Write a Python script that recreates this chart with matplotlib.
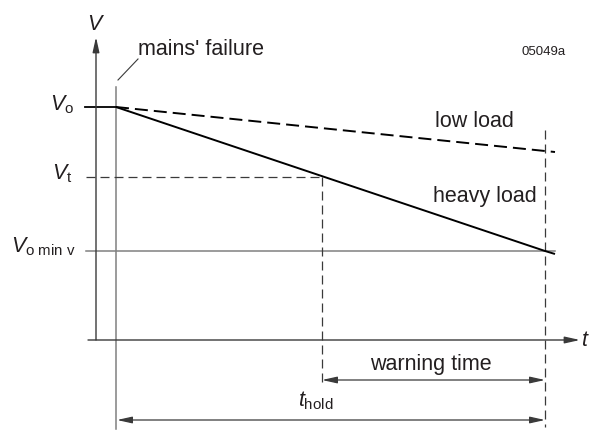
import matplotlib
matplotlib.use("Agg")
import matplotlib.pyplot as plt

plt.rcParams["font.family"] = ["Liberation Sans", "DejaVu Sans"]
plt.rcParams["mathtext.fontset"] = "custom"
plt.rcParams["mathtext.it"] = "Liberation Sans:italic"
plt.rcParams["mathtext.rm"] = "Liberation Sans"
plt.rcParams["mathtext.default"] = "it"

# --- time instants (arbitrary units, origin at the axis crossing) ---
t_fail = 20        # mains' failure
t_warn = 226       # heavy load reaches V_t
t_hold_end = 449   # heavy load reaches V_o min v
t_line_end = 459   # lines run a little past the hold time

# --- voltage levels ---
V_o = 231
V_t = 161
V_omin = 87

# --- load curves: time points and voltages ---
curve_t = [t_fail, t_hold_end, t_line_end]
heavy_load_v = [V_o, V_omin, 84]
low_load_v = [V_o, 187, 186]

TXT = "#231f20"
GREY = "#808080"
DARK = "#3a3a3a"

fig = plt.figure(figsize=(5.89, 4.32), dpi=100)
ax = fig.add_axes([0, 0, 1, 1])
ax.set_xlim(-96, 493)
ax.set_ylim(-94, 338)
ax.axis("off")

def dashed(x, y, lw, on, off, color):
    ax.plot(x, y, color=color, lw=lw, dashes=(on / lw, off / lw), solid_capstyle="butt")

px = 0.72  # points per pixel at 100 dpi

# axes with arrowheads
ax.annotate("", xy=(0, 301), xytext=(0, -2),
            arrowprops=dict(arrowstyle="-|>,head_length=0.9,head_width=0.2",
                            color=DARK, lw=1.0, shrinkA=0, shrinkB=0))
ax.annotate("", xy=(484, -2), xytext=(-8, -2),
            arrowprops=dict(arrowstyle="-|>,head_length=0.9,head_width=0.2",
                            color=DARK, lw=1.0, shrinkA=0, shrinkB=0))

# mains' failure marker and leader
ax.plot([t_fail, t_fail], [251, -91], color=GREY, lw=1.1)
ax.plot([22, 42], [258, 279], color=DARK, lw=0.8)

# level lines
ax.plot([-11, t_fail], [V_o, V_o], color="black", lw=1.3)
ax.plot([-10, t_line_end], [V_omin, V_omin], color=GREY, lw=1.1)
dashed([-10, t_warn], [V_t, V_t], 0.9, 9 * px, 5 * px, DARK)

# vertical markers
dashed([t_warn, t_warn], [V_t, -45], 0.9, 9 * px, 5 * px, DARK)
dashed([t_hold_end, t_hold_end], [208, -89], 0.9, 9 * px, 5 * px, DARK)

# load curves
ax.plot(curve_t, heavy_load_v, color="black", lw=1.4, solid_capstyle="butt")
dashed(curve_t, low_load_v, 1.4, 13 * px, 6 * px, "black")

# dimension arrows
arrow_kw = dict(arrowstyle="<|-|>,head_length=0.9,head_width=0.2",
                color=DARK, lw=0.9, shrinkA=0, shrinkB=0)
ax.annotate("", xy=(t_warn, -42), xytext=(t_hold_end, -42), arrowprops=arrow_kw)
ax.annotate("", xy=(t_fail + 1, -82), xytext=(t_hold_end, -82), arrowprops=arrow_kw)

# labels
fs = 15.5
ax.text(0, 308, r"$V$", fontsize=fs, color=TXT, ha="center", va="baseline")
ax.text(485, -2, r"$t$", fontsize=fs, color=TXT, ha="left", va="center")
ax.text(42, 283, "mains' failure", fontsize=fs, color=TXT, ha="left", va="baseline")
ax.text(470, 283, "05049a", fontsize=9.5, color=TXT, ha="right", va="baseline")
ax.text(-22, 228, r"$V_{\mathrm{o}}$", fontsize=fs, color=TXT, ha="right", va="baseline")
ax.text(-24, 159, r"$V_{\mathrm{t}}$", fontsize=fs, color=TXT, ha="right", va="baseline")
ax.text(-20, 86, r"$V_{\mathrm{o\ min\ v}}$", fontsize=fs, color=TXT, ha="right", va="baseline")
ax.text(339, 211, "low load", fontsize=fs, color=TXT, ha="left", va="baseline")
ax.text(441, 136, "heavy load", fontsize=fs, color=TXT, ha="right", va="baseline")
ax.text(335, -32, "warning time", fontsize=fs, color=TXT, ha="center", va="baseline")
ax.text(220, -68, r"$t_{\mathrm{hold}}$", fontsize=fs, color=TXT, ha="center", va="baseline")

fig.savefig("out.png", dpi=100, facecolor="white")
